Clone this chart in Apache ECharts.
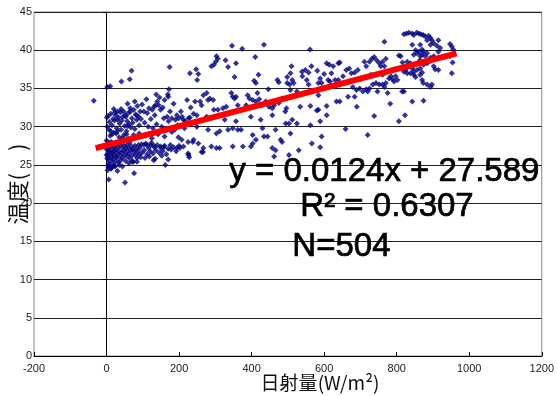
<!DOCTYPE html>
<html>
<head>
<meta charset="utf-8">
<script src="https://cdn.jsdelivr.net/npm/echarts@6/dist/echarts.min.js"></script>
<style>
  html, body { margin: 0; padding: 0; background: #fff; }
  #chart { width: 557px; height: 396px; }
</style>
</head>
<body>
<div id="chart"></div>
<script>
// 日射量 (W/m2) と 温度 の散布図 + 回帰直線

// x < 100
const ptsUnder100 = [
  [-35,33.4],[2,35.2],[10,35.3],[41,35.9],[64,36.2],[69,37.3],[6,23.1],[51,22.7],[76,23.9],[2,30.0],
  [4,31.4],[8,30.6],[12,31.7],[15,30.2],[18,31.0],[22,30.8],[25,31.5],[28,29.8],[30,30.9],[33,31.2],
  [36,30.4],[38,31.9],[40,29.6],[42,30.8],[45,31.3],[47,32.0],[50,30.1],[52,31.5],[55,29.4],[57,30.7],
  [60,31.8],[62,30.3],[65,32.4],[67,29.9],[70,31.1],[72,30.5],[75,32.2],[78,29.7],[80,31.6],[83,30.9],
  [85,32.7],[88,31.3],[90,30.2],[93,32.0],[95,31.0],[98,32.9],
  [10,28.8],[20,29.2],[35,28.6],[48,28.9],[60,28.4],[75,28.9],[90,29.1],[15,29.0],[30,29.4],[55,29.0],
  [1,27.0],[2,25.8],[3,26.5],[4,27.6],[5,25.2],[6,26.9],[7,24.8],[8,26.2],[9,27.3],[10,25.6],
  [11,26.7],[12,24.5],[13,27.8],[14,26.0],[15,25.1],[16,26.6],[17,27.2],[18,25.7],[19,26.3],[20,27.5],
  [21,24.9],[22,26.8],[24,25.4],[25,27.0],[26,26.1],[28,27.7],[29,25.9],[30,26.5],[32,27.3],[33,25.3],
  [35,26.8],[36,27.9],[38,26.2],[39,25.6],[40,27.4],[42,26.6],[43,27.9],[45,25.9],[46,26.9],[48,27.5],
  [50,26.3],[52,27.1],[53,25.5],[55,26.7],[57,27.6],[58,26.1],[60,27.2],[62,26.5],[64,27.9],[65,25.8],
  [67,26.9],[69,27.4],[70,26.2],[72,27.0],[74,25.4],[76,26.7],[78,27.5],[80,26.3],[82,27.1],[84,25.9],
  [86,26.8],[88,27.6],[90,26.4],[92,27.2],[94,26.0],[96,27.7],[98,26.6],
  [3,24.3],[6,24.8],[14,24.6],[24,24.8],[30,24.2],[44,24.8],[62,25.2],[84,25.4],
  [0,28.2],[27,29.1],[3,26.0],[44,28.5],[7,29.6],[36,25.0],[58,30.1],[13,28.0],[71,25.4],[4,24.9],
  [23,31.9],[8,27.9],[12,29.4],[0,26.3],[1,31.2],
  [66,32.0],[84,31.5],[53,31.3],[40,32.3],[30,32.0],[20,32.3],[58,33.0],[78,33.3]
];

// 100 <= x < 240
const pts100to240 = [
  [103,32.0],[112,31.8],[117,32.4],[126,32.2],[131,32.6],[135,32.8],[140,33.3],[144,32.8],[149,32.2],[158,31.1],
  [167,31.3],[171,30.7],[180,31.1],[190,30.9],[194,31.5],[199,31.1],[208,31.3],[212,30.9],[217,30.7],[226,31.1],
  [230,31.2],[235,30.4],
  [103,27.6],[112,27.6],[122,27.6],[131,27.5],[140,27.6],[149,27.4],[158,27.3],[176,27.6],[194,27.2],[212,27.4],
  [226,26.3],[228,26.0],
  [137,34.2],[169,34.2],[172,34.9],[174,37.8],[170,33.9],[230,37.0],
  [207,28.3],[225,28.0],[238,28.0],[225,26.5],[170,25.7],[162,25.0],[130,25.6],[202,27.2],
  [104,26.9],[108,27.8],[112,26.4],[116,27.2],[120,26.8],[124,27.9],[128,26.5],[132,27.3],[136,26.9],[145,26.6],
  [150,27.2],[155,26.8],[160,27.5],[165,26.4],[170,27.1],[178,27.0],[185,27.3],[192,26.8],[200,27.5],[106,25.9],
  [118,26.1],[134,25.8],[152,26.2],
  [105,30.5],[110,33.6],[115,30.0],[122,31.0],[128,29.8],[133,31.5],[138,30.3],[146,33.8],[152,30.0],[155,32.5],
  [160,33.5],[163,29.5],[175,32.0],[185,33.0],[188,29.6],[196,30.2],[205,32.0],[215,29.8],[222,33.5],[232,32.5],
  [108,28.8],[125,28.5],[142,29.0],[160,28.7],[180,29.3],[198,28.6]
];

// 240 <= x < 500
const pts240to500 = [
  [346,40.6],[374,40.2],[434,40.7],[303,39.2],[307,38.9],[301,38.5],[296,38.1],[289,37.9],[328,38.7],[357,38.3],
  [335,37.8],[410,39.1],[247,37.5],[253,36.9],[250,36.1],[353,36.5],[419,36.8],[407,36.0],[412,35.7],[471,36.1],
  [475,35.8],[498,36.5],[498,35.7],[446,34.9],
  [244,33.3],[258,33.3],[262,32.8],[267,34.1],[276,34.4],[280,33.5],[285,33.7],[294,33.5],[296,32.2],[307,32.2],
  [321,32.4],[330,32.6],[344,34.4],[348,33.9],[353,33.7],[357,33.9],[362,32.8],[385,32.8],[389,34.1],[394,33.7],
  [403,33.5],[412,33.3],[416,34.4],[421,33.6],[430,32.8],[439,33.3],[448,32.6],[457,32.4],[462,32.8],[475,33.1],
  [484,33.7],[496,32.4],
  [240,31.7],[249,31.5],[276,31.3],[326,30.9],[357,30.7],[398,31.3],[425,30.9],[457,31.5],[493,32.0],
  [249,30.0],[280,29.6],[303,29.1],[312,29.4],[335,29.6],[348,29.8],[362,29.6],[371,29.6],[403,28.9],[412,28.3],
  [430,29.8],[434,28.7],[444,28.7],[466,29.6],[480,28.3],[494,30.4],
  [240,28.3],[253,27.8],[267,27.2],[289,27.4],[303,27.2],[312,27.2],[348,27.4],[376,27.4],[398,27.4],[403,27.8],
  [457,27.2],[462,26.1],[466,26.9],[484,28.0],[262,26.7],[266,26.7]
];

// 500 <= x < 760
const pts500to760 = [
  [561,40.1],[507,37.0],[512,36.1],[539,37.2],[548,37.4],[557,37.1],[581,37.3],[589,36.3],[607,38.3],[614,38.1],
  [625,37.9],[639,38.3],[643,38.4],[620,37.0],[630,36.1],[661,37.4],[669,37.6],[675,37.0],[684,37.1],[693,37.4],
  [711,38.5],[716,37.9],[725,38.5],[732,38.9],[738,39.1],[745,38.7],[752,38.3],[756,37.9],[729,36.8],
  [505,35.5],[507,34.8],[516,35.7],[557,35.5],[552,36.1],[584,35.7],[593,35.7],[611,36.1],[616,35.9],[639,36.1],
  [643,35.5],[525,34.6],[584,34.1],[679,35.2],[689,34.8],[698,35.0],[707,34.6],[716,34.9],[725,35.0],[734,35.5],
  [743,35.7],[752,35.5],[747,34.6],[720,34.6],[643,33.3],[634,33.3],[666,33.9],[684,33.9],
  [534,32.6],[562,32.7],[580,32.1],[584,32.2],[607,32.7],[607,31.5],[589,30.7],[562,30.2],[512,30.9],[503,30.4],
  [525,30.4],[659,29.7],[738,31.4],[720,28.9],[593,28.7],[589,27.3],[566,27.8],[530,26.9],[503,26.3],[507,29.1],
  [510,37.9],[540,36.6],[565,37.9],[600,36.9],[652,36.6],[700,36.2],[690,32.6]
];

// x >= 760
const pts760up = [
  [820,42.1],[827,42.2],[834,42.3],[843,42.2],[847,42.0],[855,42.3],[861,42.2],[867,42.1],[873,42.0],[879,41.8],
  [888,41.9],[893,41.6],[897,41.3],[902,40.9],[893,40.7],[884,41.3],[915,41.3],[911,40.6],[920,40.3],[766,41.1],
  [843,40.7],[947,40.8],[952,40.5],[956,40.1],[947,39.2],[954,38.4],[952,37.0],[915,39.8],[902,39.2],[893,39.0],
  [865,40.7],[870,40.1],[861,39.8],[856,39.6],[847,39.4],[852,40.0],[874,39.8],[884,39.6],[879,39.2],[870,39.4],
  [865,39.2],[864,38.7],[811,39.2],[816,38.4],[829,38.5],[834,37.9],[838,38.3],[843,37.6],[825,37.4],[820,37.2],
  [829,37.0],[838,37.0],[847,37.2],[856,37.4],[865,37.6],[874,38.1],[884,38.3],[888,38.5],[902,37.9],[906,37.5],
  [915,37.4],[870,37.1],[847,36.8],[852,36.5],[802,36.1],[793,35.9],[788,36.2],[779,36.3],[797,36.6],[784,36.6],
  [770,38.9],[761,38.5],[766,37.9],[761,36.8],[770,35.7],[761,35.5],[766,35.2],[775,34.4],[806,39.3],[873,35.7],
  [884,35.5],[893,35.2],[820,34.6],[843,33.3],[874,33.4],[782,33.0],[823,31.5],[806,30.7],[870,36.1],[865,36.8],
  [815,34.6],[897,35.5]
];

// 回帰直線 y = 0.0124x + 27.589 の両端
const trendX = [-30, 965];
const trendY = [27.2, 39.6];

const allPoints = [].concat(ptsUnder100, pts100to240, pts240to500, pts500to760, pts760up);

const chart = echarts.init(document.getElementById('chart'));

// 注記テキストの共通スタイル
const noteFont = '33px "Liberation Sans"';

const option = {
  animation: false,
  backgroundColor: '#fff',
  grid: {
    left: 34, right: 9, top: 12, bottom: 40,
    show: true,
    borderColor: '#888',
    borderWidth: 1
  },
  xAxis: {
    type: 'value',
    min: -200, max: 1200, interval: 200,
    axisLine: { onZero: true, lineStyle: { color: '#000', width: 1 } },
    axisTick: { show: true, inside: true, length: 4, lineStyle: { color: '#000' } },
    axisLabel: {
      color: '#222', fontSize: 11, fontFamily: 'Liberation Sans', margin: 7,
      formatter: (v) => String(v)
    },
    splitLine: { show: false }
  },
  yAxis: {
    type: 'value',
    min: 0, max: 45, interval: 5,
    axisLine: { show: true, onZero: true, lineStyle: { color: '#000', width: 1 } },
    axisTick: { show: true, length: 4, lineStyle: { color: '#000' } },
    axisLabel: { color: '#222', fontSize: 11, fontFamily: 'Liberation Sans', margin: 2 },
    splitLine: { show: true, lineStyle: { color: '#222', width: 1 } }
  },
  series: [
    {
      name: '温度',
      type: 'scatter',
      symbol: 'diamond',
      symbolSize: 6,
      itemStyle: { color: '#000080' },
      data: allPoints,
      z: 2
    },
    {
      name: 'trend',
      type: 'line',
      data: trendX.map((x, i) => [x, trendY[i]]),
      symbol: 'none',
      lineStyle: { color: '#ff0000', width: 6 },
      z: 3
    }
  ],
  graphic: [
    {
      type: 'text', left: 229, top: 155, z: 10,
      style: { text: 'y = 0.0124x + 27.589', font: noteFont, fill: '#000', stroke: '#000', lineWidth: 0.7 }
    },
    {
      type: 'text', left: 300, top: 190, z: 10,
      style: { text: 'R² = 0.6307', font: noteFont, fill: '#000', stroke: '#000', lineWidth: 0.7 }
    },
    {
      type: 'text', left: 292, top: 230, z: 10,
      style: { text: 'N=504', font: noteFont, fill: '#000', stroke: '#000', lineWidth: 0.7 }
    },
    {
      type: 'text', x: 320, y: 383, z: 10,
      style: { text: '日射量(W/m²)', font: '19px "Noto Sans CJK JP"', fill: '#111', align: 'center', verticalAlign: 'middle' }
    },
    {
      type: 'text', x: 18, y: 184, rotation: Math.PI / 2, z: 10,
      style: { text: '温度(　)', font: '22px "Noto Sans CJK JP"', fill: '#111', align: 'center', verticalAlign: 'middle' }
    }
  ]
};

chart.setOption(option);
</script>
</body>
</html>
